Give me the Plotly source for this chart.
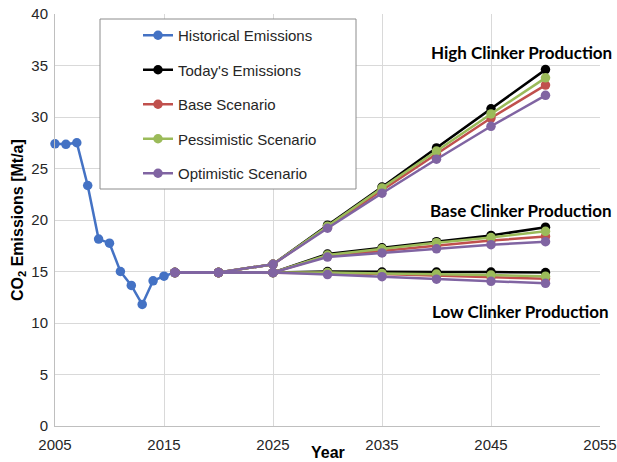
import plotly.graph_objects as go

# ---- data ----
hist_years = [2005, 2006, 2007, 2008, 2009, 2010, 2011, 2012, 2013, 2014, 2015, 2016]
hist_vals = [27.4, 27.35, 27.5, 23.35, 18.15, 17.75, 15.0, 13.65, 11.8, 14.1, 14.55, 14.9]

scen_years = [2016, 2020, 2025, 2030, 2035, 2040, 2045, 2050]

today_high = [14.9, 14.9, 15.7, 19.5, 23.2, 27.0, 30.8, 34.6]
today_base = [14.9, 14.9, 14.9, 16.7, 17.3, 17.9, 18.5, 19.3]
today_low = [14.9, 14.9, 14.9, 15.0, 14.95, 14.95, 14.95, 14.9]

base_high = [14.9, 14.9, 15.7, 19.3, 22.9, 26.4, 29.9, 33.1]
base_base = [14.9, 14.9, 14.9, 16.5, 17.0, 17.5, 18.0, 18.4]
base_low = [14.9, 14.9, 14.9, 14.85, 14.75, 14.6, 14.5, 14.3]

pess_high = [14.9, 14.9, 15.7, 19.4, 23.1, 26.7, 30.3, 33.8]
pess_base = [14.9, 14.9, 14.9, 16.6, 17.2, 17.8, 18.3, 18.9]
pess_low = [14.9, 14.9, 14.9, 14.9, 14.8, 14.75, 14.65, 14.55]

opt_high = [14.9, 14.9, 15.7, 19.2, 22.6, 25.9, 29.1, 32.1]
opt_base = [14.9, 14.9, 14.9, 16.4, 16.8, 17.2, 17.6, 17.9]
opt_low = [14.9, 14.9, 14.9, 14.7, 14.5, 14.25, 14.05, 13.85]

series_names = ["Today's Emissions", "Base Scenario", "Pessimistic Scenario", "Optimistic Scenario"]
series_colors = ["#000000", "#C0504D", "#9BBB59", "#8064A2"]
series_data = [
    [today_high, today_base, today_low],
    [base_high, base_base, base_low],
    [pess_high, pess_base, pess_low],
    [opt_high, opt_base, opt_low],
]

x_ticks = [2005, 2015, 2025, 2035, 2045, 2055]
y_ticks = [0, 5, 10, 15, 20, 25, 30, 35, 40]
branch_labels = ["High Clinker Production", "Base Clinker Production", "Low Clinker Production"]

# ---- figure ----
W, H = 617, 462
ml, mr, mt, mb = 55, 17, 14, 36
pw, ph = W - ml - mr, H - mt - mb


def px(x):
    return (x - ml) / pw


def py(y):
    return (H - mb - y) / ph


fig = go.Figure()

fig.add_trace(go.Scatter(
    x=hist_years, y=hist_vals, mode="lines+markers", name="Historical Emissions",
    line=dict(color="#4472C4", width=2.5), marker=dict(size=9.5, color="#4472C4"),
    legendgroup="hist", cliponaxis=False,
))

for name, color, branches in zip(series_names, series_colors, series_data):
    for i, vals in enumerate(branches):
        fig.add_trace(go.Scatter(
            x=scen_years, y=vals, mode="lines+markers", name=name,
            line=dict(color=color, width=2.5), marker=dict(size=9.5, color=color),
            legendgroup=name, showlegend=(i == 0), cliponaxis=False,
        ))

# legend box
fig.add_shape(type="rect", xref="paper", yref="paper",
              x0=px(100), x1=px(356), y0=py(189), y1=py(19),
              line=dict(color="#8c8c8c", width=1), fillcolor="white", layer="above")

# branch labels
label_pos = [(521, 53), (521, 210), (520, 311)]
for txt, (lx, ly) in zip(branch_labels, label_pos):
    fig.add_annotation(text="<b>" + txt + "</b>", xref="paper", yref="paper",
                       x=px(lx), y=py(ly), xanchor="center", yanchor="middle",
                       showarrow=False, font=dict(family="Lato", size=17, color="#000000"))

# y title
fig.add_annotation(text="<b>CO<sub>2</sub> Emissions [Mt/a]</b>", xref="paper", yref="paper",
                   x=px(18), y=py(220), xanchor="center", yanchor="middle", textangle=-90,
                   showarrow=False, font=dict(family="Liberation Sans", size=16, color="#000000"))
# x title
fig.add_annotation(text="<b>Year</b>", xref="paper", yref="paper",
                   x=px(328), y=py(452), xanchor="center", yanchor="middle",
                   showarrow=False, font=dict(family="Liberation Sans", size=16, color="#000000"))

fig.update_layout(
    width=W, height=H,
    margin=dict(l=ml, r=mr, t=mt, b=mb, autoexpand=False),
    paper_bgcolor="white", plot_bgcolor="white",
    font=dict(family="Liberation Sans", size=15, color="#262626"),
    showlegend=True,
    legend=dict(x=px(138), y=py(19), xanchor="left", yanchor="top",
                bgcolor="rgba(0,0,0,0)", borderwidth=0, tracegroupgap=12,
                font=dict(family="Liberation Sans", size=15, color="#262626")),
    xaxis=dict(range=[2005, 2055], tickvals=x_ticks, ticktext=[str(v) for v in x_ticks],
               showgrid=True, gridcolor="#d9d9d9", gridwidth=1, automargin=False,
               showline=True, linecolor="#bfbfbf", linewidth=1, zeroline=False,
               ticks="", ticklabelstandoff=5, tickfont=dict(size=15, color="#262626")),
    yaxis=dict(range=[0, 40], tickvals=y_ticks, ticktext=[str(v) for v in y_ticks],
               showgrid=True, gridcolor="#d9d9d9", gridwidth=1, automargin=False,
               showline=True, linecolor="#bfbfbf", linewidth=1, zeroline=False,
               ticks="", ticklabelstandoff=3, tickfont=dict(size=15, color="#262626")),
)

fig.write_html("out.html", config={"responsive": False, "displayModeBar": False},
               post_script="document.body.style.margin='0';document.body.style.overflow='hidden';")
